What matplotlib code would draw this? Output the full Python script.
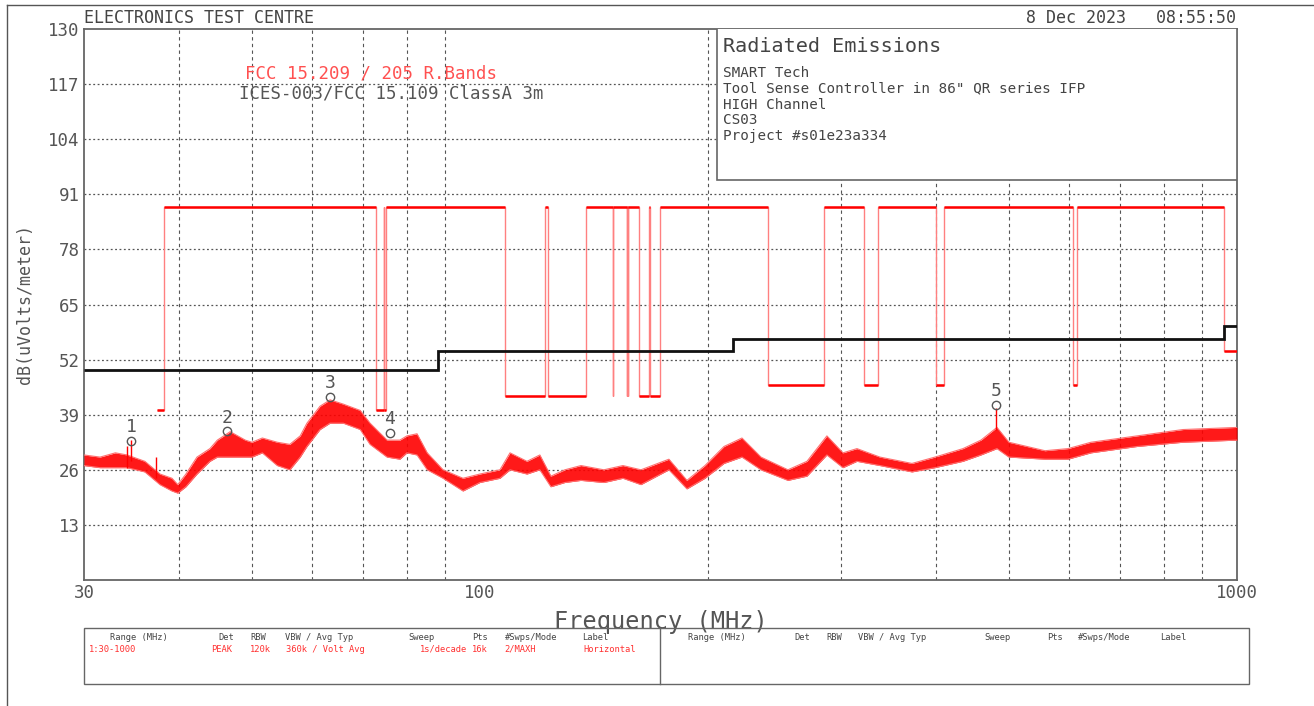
import matplotlib
matplotlib.use("Agg")
import matplotlib.pyplot as plt
from matplotlib.patches import Rectangle
from matplotlib.lines import Line2D

W, H = 1314, 706
MONO = "DejaVu Sans Mono"
GREY = "#444444"

# FCC 15.209 / 15.205 restricted band limit (edges in MHz, one level per segment)
red_freq = [37.5, 38.25, 73, 74.6, 74.8, 75.2, 108, 121.94, 123, 138, 149.9, 150.05,
            156.52475, 156.52525, 156.7, 156.9, 162.0125, 167.17, 167.72, 173.2,
            240, 285, 322, 335.4, 399.9, 410, 608, 614, 960, 1000]
red_level = [40, 88, 40, 88, 40, 88, 43.5, 88, 43.5, 88, 43.5, 88, 43.5, 88, 43.5,
             88, 43.5, 88, 43.5, 88, 46, 88, 46, 88, 46, 88, 46, 88, 54]

# ICES-003 / FCC 15.109 Class A at 3 m
black_freq = [30, 88, 216, 960, 1000]
black_level = [49.5, 54, 56.9, 60]

# peak sweep, lower / upper envelope of the trace
trace_freq = [30.0, 31.5, 33.0, 34.2, 36.1, 37.8, 39.2, 39.9, 40.9, 42.3, 44.0, 45.0,
              46.8, 49.0, 50.0, 51.6, 54.0, 56.1, 57.9, 59.1, 61.5, 63.4, 66.0, 69.5,
              71.6, 75.4, 78.4, 80.1, 82.6, 85.2, 89.4, 95.0, 100.0, 106.3, 109.6,
              115.4, 120.0, 124.1, 129.5, 136.0, 145.8, 154.5, 163.2, 177.7, 187.7,
              198.3, 210.1, 221.9, 235.1, 255.2, 270.4, 287.3, 301.7, 314.8, 337.6,
              372.1, 399.1, 434.6, 459.0, 481.9, 499.7, 557.7, 598.1, 641.4, 737.9,
              848.4, 1000.0]
trace_lo = [27, 26.5, 26.5, 26.5, 25.5, 22.5, 21, 20.5, 22, 25, 28, 29,
            29, 29, 29, 30, 27, 26, 29, 31.5, 35.5, 37, 37, 35.5,
            32, 29, 28.5, 30, 29.5, 26, 24, 21, 23, 24, 26,
            25, 26, 22, 23, 23.5, 23, 24, 22.5, 26, 21.5,
            24, 27.5, 29, 26, 23.5, 24.5, 29.5, 26.5, 28, 27,
            25.5, 26.5, 28, 29.5, 31, 29, 28.5, 28.5, 30, 31.5,
            32.5, 33]
trace_hi = [29.5, 29, 30, 29.5, 28, 25, 24, 22.5, 25, 29, 31, 33,
            35, 33, 32.5, 33.5, 32.5, 32, 34, 37, 41, 42.5, 41.5, 40,
            37, 33, 33, 34, 34.5, 30, 26, 24, 25, 26, 30,
            28, 29.5, 24.5, 26, 27, 26, 27, 26, 28.5, 23.5,
            27, 31.5, 33.5, 29, 26, 28, 34, 30, 31, 29,
            27.5, 29, 31, 33, 36, 32.5, 30.5, 31, 32.5, 34,
            35.5, 36]

# narrow spikes above the envelope
spike_freq = [34.2, 34.6, 37.4, 481.0]
spike_top = [31.5, 33.0, 29.0, 40.5]

# markers
marker_freq = [34.6, 46.3, 63.4, 76.0, 481.0]
marker_level = [32.8, 35.1, 43.2, 34.7, 41.3]
marker_name = ["1", "2", "3", "4", "5"]

y_ticks = [13, 26, 39, 52, 65, 78, 91, 104, 117, 130]
x_grid = [40, 50, 60, 70, 80, 90, 200, 300, 400, 500, 600, 700, 800, 900]

info_lines = ["SMART Tech",
              'Tool Sense Controller in 86" QR series IFP',
              "HIGH Channel",
              "CS03",
              "Project #s01e23a334"]

table_head = [("Range (MHz)", 110), ("Det", 218), ("RBW", 250), ("VBW / Avg Typ", 285),
              ("Sweep", 408), ("Pts", 472), ("#Swps/Mode", 505), ("Label", 582)]
table_vals = [("1:30-1000", 89), ("PEAK", 211), ("120k", 250), ("360k / Volt Avg", 286),
              ("1s/decade", 420), ("16k", 472), ("2/MAXH", 504), ("Horizontal", 583)]
head_right = [("Range (MHz)", 688), ("Det", 794), ("RBW", 826), ("VBW / Avg Typ", 858),
              ("Sweep", 984), ("Pts", 1047), ("#Swps/Mode", 1078), ("Label", 1160)]


def px(x, y):
    return x / W, 1 - y / H


fig = plt.figure(figsize=(W / 100, H / 100), dpi=100)
ax = fig.add_axes([84 / W, 1 - 580 / H, (1237 - 84) / W, (580 - 29) / H])
ax.set_xscale("log")
ax.set_xlim(30, 1000)
ax.set_ylim(0, 130)

# grid
for f in x_grid:
    ax.axvline(f, color="#555555", lw=0.8, ls=(0, (3, 3)), zorder=1)
for v in y_ticks[:-1]:
    ax.axhline(v, color="#555555", lw=0.9, ls=(0, (1.5, 2)), zorder=1)

# limit lines
ax.stairs(red_level, red_freq, color="#ff8080", lw=1.0, baseline=None, zorder=3)
ax.hlines(red_level, red_freq[:-1], red_freq[1:], color="#ff0000", lw=1.8, zorder=3)
ax.stairs(black_level, black_freq, color="#111111", lw=2.0, baseline=None, zorder=4)

# measured trace
ax.fill_between(trace_freq, trace_lo, trace_hi, color="#ff0000", alpha=0.9, lw=0, zorder=5)
ax.plot(trace_freq, trace_hi, color="#ff7070", lw=0.8, zorder=5)
ax.plot(trace_freq, trace_lo, color="#ff7070", lw=0.8, zorder=5)
ax.vlines(spike_freq, [v - 5 for v in spike_top], spike_top, color="#ff0000", lw=1.0, zorder=5)

# markers
ax.plot(marker_freq, marker_level, ls="none", marker="o", ms=6, mfc="none",
        mec="#555555", mew=1.0, zorder=6)
for f, v, name in zip(marker_freq, marker_level, marker_name):
    ax.text(f, v + 3.2, name, ha="center", va="center", family=MONO, fontsize=13,
            color="#555555", zorder=6)

# axes styling
for s in ax.spines.values():
    s.set_color("#666666")
    s.set_linewidth(1.3)
ax.set_xticks([30, 100, 1000])
ax.set_xticklabels(["30", "100", "1000"])
ax.set_xticks([], minor=True)
ax.set_yticks(y_ticks)
ax.set_yticklabels([str(v) for v in y_ticks])
ax.tick_params(length=0, labelsize=12.5, labelcolor="#555555", pad=3)
for lab in ax.get_xticklabels() + ax.get_yticklabels():
    lab.set_family(MONO)
ax.set_xlabel("Frequency (MHz)", family=MONO, fontsize=17, color="#555555", labelpad=6)
ax.set_ylabel("dB(uVolts/meter)", family=MONO, fontsize=12, color="#555555", labelpad=10)

# limit captions
fig.text(*px(371, 73), "FCC 15.209 / 205 R.Bands", ha="center", va="center",
         family=MONO, fontsize=12.5, color="#ff5050")
fig.text(*px(391, 93), "ICES-003/FCC 15.109 ClassA 3m", ha="center", va="center",
         family=MONO, fontsize=12.5, color="#555555")

# info box
ax.add_patch(Rectangle(((717 - 84) / 1153, (580 - 180) / 551), 1 - (717 - 84) / 1153,
                       180 / 551, transform=ax.transAxes, facecolor="white",
                       edgecolor="#666666", lw=1.2, zorder=7))
fig.text(*px(723, 46), "Radiated Emissions", va="center", family=MONO, fontsize=14.5,
         color=GREY)
for i, line in enumerate(info_lines):
    fig.text(*px(723, 73 + 15.8 * i), line, va="center", family=MONO, fontsize=10.3,
             color=GREY)

# header texts
fig.text(*px(84, 18), "ELECTRONICS TEST CENTRE", va="center", family=MONO,
         fontsize=12, color=GREY)
fig.text(*px(1236, 18), "8 Dec 2023   08:55:50", va="center", ha="right", family=MONO,
         fontsize=12, color=GREY)

# page border
fig.add_artist(Line2D([7 / W, 7 / W], [0, 1 - 5 / H], color="#555555", lw=1.0))
fig.add_artist(Line2D([7 / W, 1], [1 - 5 / H, 1 - 5 / H], color="#555555", lw=1.0))

# settings table
fig.add_artist(Rectangle(px(84, 684), (1249 - 84) / W, 56 / H, facecolor="none",
                         edgecolor="#666666", lw=1.0))
fig.add_artist(Line2D([660 / W, 660 / W], [1 - 684 / H, 1 - 628 / H], color="#666666",
                      lw=1.0))
for txt, x in table_head + head_right:
    fig.text(*px(x, 637), txt, va="center", family=MONO, fontsize=6.3, color=GREY)
for txt, x in table_vals:
    fig.text(*px(x, 649), txt, va="center", family=MONO, fontsize=6.3, color="#ff3030")

fig.savefig("out.png", dpi=100)
